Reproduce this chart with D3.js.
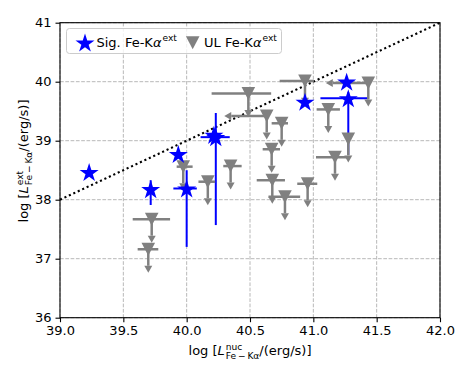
<!DOCTYPE html>
<html>
<head>
<meta charset="utf-8">
<script src="https://cdn.jsdelivr.net/npm/d3@7"></script>
<style>
  body { margin: 0; background: #fff; }
  text { font-family: "DejaVu Sans", sans-serif; fill: #000; }
</style>
</head>
<body>
<div id="chart"></div>
<script>
// significant extended Fe-Ka detections (blue stars)
const sigX   = [39.23, 39.716, 39.934, 40.0, 40.215, 40.23, 40.934, 41.263, 41.276];
const sigY   = [38.47, 38.18, 38.775, 38.19, 39.10, 39.06, 39.66, 40.0, 39.72];
const sigXLo = [0, 0, 0, 0.105, 0, 0.12, 0, 0, 0.22];
const sigXHi = [0, 0, 0, 0.08, 0, 0.11, 0, 0, 0.16];
const sigYLo = [0, 0.27, 0, 0.99, 0, 1.49, 0, 0, 0.96];
const sigYHi = [0, 0.15, 0, 0.31, 0, 0.41, 0, 0, 0.1];

// upper limits (grey triangles)
const ulX    = [39.724, 39.697, 39.973, 40.167, 40.347, 40.487, 40.632, 40.75, 40.671, 40.676, 40.776, 40.955, 41.171, 41.276, 41.118, 41.434, 40.934];
const ulY    = [37.67, 37.16, 38.56, 38.305, 38.57, 39.80, 39.42, 39.295, 38.855, 38.33, 38.05, 38.27, 38.72, 39.03, 39.53, 39.98, 40.01];
const ulXLo  = [0.15, 0.084, 0.052, 0.074, 0.058, 0.29, 0, 0.079, 0.071, 0.123, 0.13, 0.082, 0.15, 0, 0.092, 0, 0.2];
const ulXHi  = [0.145, 0.079, 0.074, 0.058, 0.087, 0.18, 0, 0.05, 0.066, 0.1, 0.12, 0.076, 0.1, 0, 0.092, 0, 0.07];
const ulXLim = [false, false, false, false, false, false, true, false, false, false, false, false, false, false, false, true, false];
const arrowLen = 0.28;

const xTicks = [39.0, 39.5, 40.0, 40.5, 41.0, 41.5, 42.0];
const yTicks = [36, 37, 38, 39, 40, 41];
const oneToOne = [[39, 38], [42, 41]];

const W = 463, H = 371;
const plotL = 60, plotR = 440, plotT = 22.7, plotB = 317.7;
const fs = 13;

const svg = d3.select('#chart').append('svg')
    .attr('width', W)
    .attr('height', H);

const x = d3.scaleLinear().domain([39, 42]).range([plotL, plotR]);
const y = d3.scaleLinear().domain([36, 41]).range([plotB, plotT]);

// grid
const grid = svg.append('g').attr('stroke', '#b0b0b0').attr('stroke-width', 0.9).attr('stroke-dasharray', '3.7,1.6');
grid.selectAll('line.gx').data(xTicks).join('line')
    .attr('x1', d => x(d)).attr('x2', d => x(d)).attr('y1', plotT).attr('y2', plotB);
grid.selectAll('line.gy').data(yTicks).join('line')
    .attr('x1', plotL).attr('x2', plotR).attr('y1', d => y(d)).attr('y2', d => y(d));

// 1:1 line
svg.append('path')
    .attr('d', d3.line().x(d => x(d[0])).y(d => y(d[1]))(oneToOne))
    .attr('fill', 'none').attr('stroke', '#000')
    .attr('stroke-width', 2.1).attr('stroke-dasharray', '2.1,2.8');

const sig = sigX.map((v, i) => ({x: v, y: sigY[i], xl: sigXLo[i], xh: sigXHi[i], yl: sigYLo[i], yh: sigYHi[i]}));
const ul = ulX.map((v, i) => ({x: v, y: ulY[i], xl: ulXLo[i], xh: ulXHi[i], xlim: ulXLim[i]}));

// blue error bars
const sigBars = svg.append('g').attr('stroke', '#0000ff').attr('stroke-width', 2);
sigBars.selectAll('line.h').data(sig.filter(d => d.xl + d.xh > 0)).join('line')
    .attr('x1', d => x(d.x - d.xl)).attr('x2', d => x(d.x + d.xh))
    .attr('y1', d => y(d.y)).attr('y2', d => y(d.y));
sigBars.selectAll('line.v').data(sig.filter(d => d.yl + d.yh > 0)).join('line')
    .attr('x1', d => x(d.x)).attr('x2', d => x(d.x))
    .attr('y1', d => y(d.y + d.yh)).attr('y2', d => y(d.y - d.yl));

// grey bars and limit arrows
const ulBars = svg.append('g').attr('stroke', '#808080').attr('stroke-width', 2.5);
ulBars.selectAll('line.h').data(ul.filter(d => d.xl + d.xh > 0)).join('line')
    .attr('x1', d => x(d.x - d.xl)).attr('x2', d => x(d.x + d.xh))
    .attr('y1', d => y(d.y)).attr('y2', d => y(d.y));
ulBars.selectAll('line.v').data(ul).join('line')
    .attr('x1', d => x(d.x)).attr('x2', d => x(d.x))
    .attr('y1', d => y(d.y)).attr('y2', d => y(d.y - arrowLen));
ulBars.selectAll('line.l').data(ul.filter(d => d.xlim)).join('line')
    .attr('x1', d => x(d.x)).attr('x2', d => x(d.x - arrowLen))
    .attr('y1', d => y(d.y)).attr('y2', d => y(d.y));

const carets = svg.append('g').attr('fill', '#808080');
carets.selectAll('path.down').data(ul).join('path')
    .attr('transform', d => `translate(${x(d.x)},${y(d.y - arrowLen)})`)
    .attr('d', 'M-4,0L4,0L0,7Z');
carets.selectAll('path.left').data(ul.filter(d => d.xlim)).join('path')
    .attr('transform', d => `translate(${x(d.x - arrowLen)},${y(d.y)})`)
    .attr('d', 'M0,-4L0,4L-7,0Z');

// markers
const tri = 'M-6.8,-6.5L6.8,-6.5L0,6.5Z';
svg.append('g').selectAll('path').data(ul).join('path')
    .attr('transform', d => `translate(${x(d.x)},${y(d.y)})`)
    .attr('d', tri).attr('fill', '#808080');

const star = d3.symbol(d3.symbolStar, 112)();
svg.append('g').selectAll('path').data(sig).join('path')
    .attr('transform', d => `translate(${x(d.x)},${y(d.y) + 1})`)
    .attr('d', star).attr('fill', '#0000ff');

// axes
const xAxis = svg.append('g')
    .attr('transform', `translate(0,${plotB})`)
    .call(d3.axisBottom(x).tickValues(xTicks).tickFormat(d3.format('.1f')).tickSize(4.5).tickPadding(4).tickSizeOuter(0));
const yAxis = svg.append('g')
    .attr('transform', `translate(${plotL},0)`)
    .call(d3.axisLeft(y).tickValues(yTicks).tickFormat(d3.format('d')).tickSize(4.5).tickPadding(4).tickSizeOuter(0));
[xAxis, yAxis].forEach(a => {
    a.selectAll('text').attr('font-size', fs).attr('font-family', '"DejaVu Sans", sans-serif');
    a.select('.domain').remove();
    a.selectAll('line').attr('stroke-width', 1.1);
});

svg.append('rect')
    .attr('x', plotL).attr('y', plotT)
    .attr('width', plotR - plotL).attr('height', plotB - plotT)
    .attr('fill', 'none').attr('stroke', '#000').attr('stroke-width', 1.1);

// text with stacked super/subscripts
function mathText(g, parts, size) {
    let cx = 0;
    parts.forEach(p => {
        if (p.sup !== undefined) {
            const a = g.append('text').attr('x', cx + 1).attr('y', -size * 0.42).attr('font-size', size * 0.7).text(p.sup);
            const b = g.append('text').attr('x', cx + 1).attr('y', size * 0.3).attr('font-size', size * 0.7).text(p.sub);
            cx += Math.max(a.node().getComputedTextLength(), b.node().getComputedTextLength()) + 1;
        } else {
            const t = g.append('text').attr('x', cx).attr('font-size', size)
                .attr('font-style', p.it ? 'italic' : null).text(p.t);
            cx += t.node().getComputedTextLength();
        }
    });
    return cx;
}

const xl = svg.append('g');
const xw = mathText(xl, [{t: 'log ['}, {t: 'L', it: true}, {sup: 'nuc', sub: 'Fe\u2009\u2212\u2009K\u03b1'}, {t: '/(erg/s)]'}], fs);
xl.attr('transform', `translate(${(plotL + plotR) / 2 - xw / 2},355)`);

const yl = svg.append('g');
const yw = mathText(yl, [{t: 'log ['}, {t: 'L', it: true}, {sup: 'ext', sub: 'Fe\u2009\u2212\u2009K\u03b1'}, {t: '/(erg/s)]'}], fs);
yl.attr('transform', `translate(28,${161 + yw / 2}) rotate(-90)`);

// legend
const lg = svg.append('g');
lg.append('rect')
    .attr('x', 66.5).attr('y', 28.5).attr('width', 215).attr('height', 25).attr('rx', 3)
    .attr('fill', '#fff').attr('fill-opacity', 0.8).attr('stroke', '#cccccc').attr('stroke-width', 1);
lg.append('path').attr('transform', 'translate(85,43.5)').attr('d', star).attr('fill', '#0000ff');
lg.append('path').attr('transform', 'translate(192.7,42.7)').attr('d', tri).attr('fill', '#808080');

function legendText(x0, label) {
    const g = lg.append('g').attr('transform', `translate(${x0},46.5)`);
    const t = g.append('text').attr('font-size', fs);
    t.append('tspan').text(label + ' Fe-K');
    t.append('tspan').attr('font-style', 'italic').text('\u03b1');
    t.append('tspan').attr('font-size', fs * 0.7).attr('dy', -5.5).attr('dx', 1).text('ext');
}
legendText(96.5, 'Sig.');
legendText(204, 'UL');
</script>
</body>
</html>
